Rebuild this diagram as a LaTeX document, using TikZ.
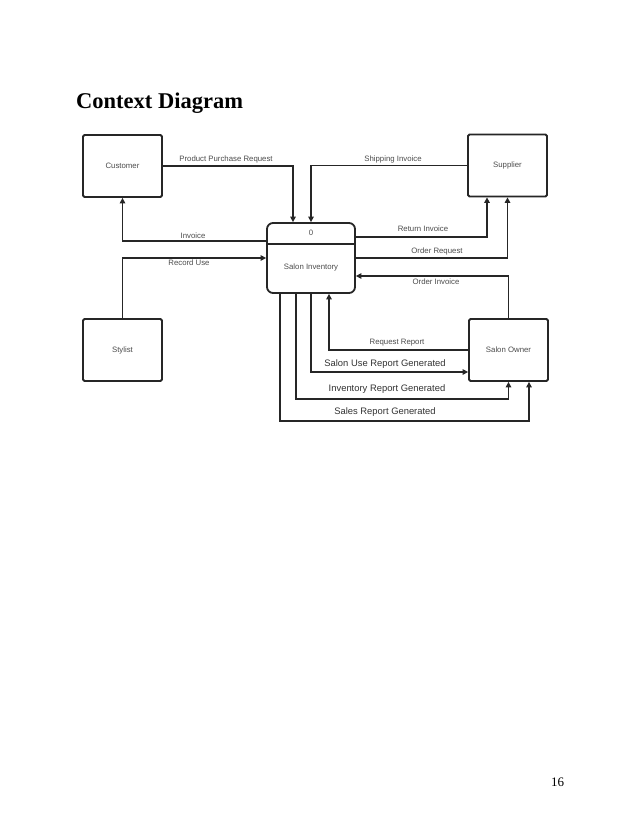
\documentclass[tikz,border=0pt]{standalone}
\usepackage{fontspec}
\setmainfont{Liberation Serif}
\newfontfamily\labfont{Liberation Sans}
\usetikzlibrary{arrows.meta}
\begin{document}
\begin{tikzpicture}[x=1pt,y=-1pt,
  ent/.style={draw=black!85,line width=1.8pt,rounded corners=1.5pt,minimum width=79pt,minimum height=62pt,inner sep=0pt,font=\labfont\fontsize{7.8}{9}\selectfont,text=black!70},
  proc/.style={draw=black!85,line width=1.8pt,rounded corners=6pt,minimum width=88pt,minimum height=70pt,inner sep=0pt},
  flow/.style={draw=black!85,line width=1.8pt,-{Triangle[length=5.5pt,width=5.5pt]}},
  lbl/.style={font=\labfont\fontsize{7.8}{9}\selectfont,text=black!70,inner sep=0pt},
  biglbl/.style={font=\labfont\fontsize{9.4}{11}\selectfont,text=black!80,inner sep=0pt}]
\useasboundingbox (0,0) rectangle (638,826);
\fill[white] (0,0) rectangle (638,826);

\node[anchor=base west,inner sep=0pt,font=\bfseries\fontsize{22.5}{27}\selectfont] (title) at (76,109) {Context Diagram};
\node[anchor=base,inner sep=0pt,font=\fontsize{13}{15}\selectfont] (page) at (557.5,786) {16};

\node[ent] (cust) at (122.5,166) {Customer};
\node[ent] (supp) at (507.5,165.5) {Supplier};
\node[ent] (styl) at (122.5,350) {Stylist};
\node[ent] (own) at (508.5,350) {Salon Owner};
\node[proc] (inv) at (311,258) {};
\draw[draw=black!85,line width=1.8pt] ([yshift=14pt]inv.west) -- ([yshift=14pt]inv.east);
\node[lbl] (invnum) at (311,233) {0};
\node[lbl] (invname) at (311,267) {Salon Inventory};

% flows
\draw[flow] (cust.east) -| ([xshift=-18pt]inv.north);
\node[lbl] (l1) at (226,159) {Product Purchase Request};

\draw[flow] (supp.west) -| (inv.north);
\node[lbl] (l2) at (393,159) {Shipping Invoice};

\draw[flow] ([yshift=17pt]inv.west) -| (cust.south);
\node[lbl] (l3) at (193,236) {Invoice};

\draw[flow] (styl.north) |- (inv.west);
\node[lbl] (l4) at (189,263) {Record Use};

\draw[flow] ([yshift=21pt]inv.east) -| ([xshift=-20.5pt]supp.south);
\node[lbl] (l5) at (423,229) {Return Invoice};

\draw[flow] (inv.east) -| (supp.south);
\node[lbl] (l6) at (437,251) {Order Request};

\draw[flow] (own.north) |- ([yshift=-18pt]inv.east);
\node[lbl] (l7) at (436,282) {Order Invoice};

\draw[flow] (own.west) -| ([xshift=18pt]inv.south);
\node[lbl] (l8) at (397,343) {Request Report};

\draw[flow] (inv.south) |- ([yshift=-22pt]own.west);
\node[biglbl] (l9) at (385,364) {Salon Use Report Generated};

\draw[flow] ([xshift=-15pt]inv.south) -- ++(0,105) -| (own.south);
\node[biglbl] (l10) at (387,389) {Inventory Report Generated};

\draw[flow] ([xshift=-31pt]inv.south) -- ++(0,127) -| ([xshift=20.5pt]own.south);
\node[biglbl] (l11) at (385,412) {Sales Report Generated};
\end{tikzpicture}
\end{document}
